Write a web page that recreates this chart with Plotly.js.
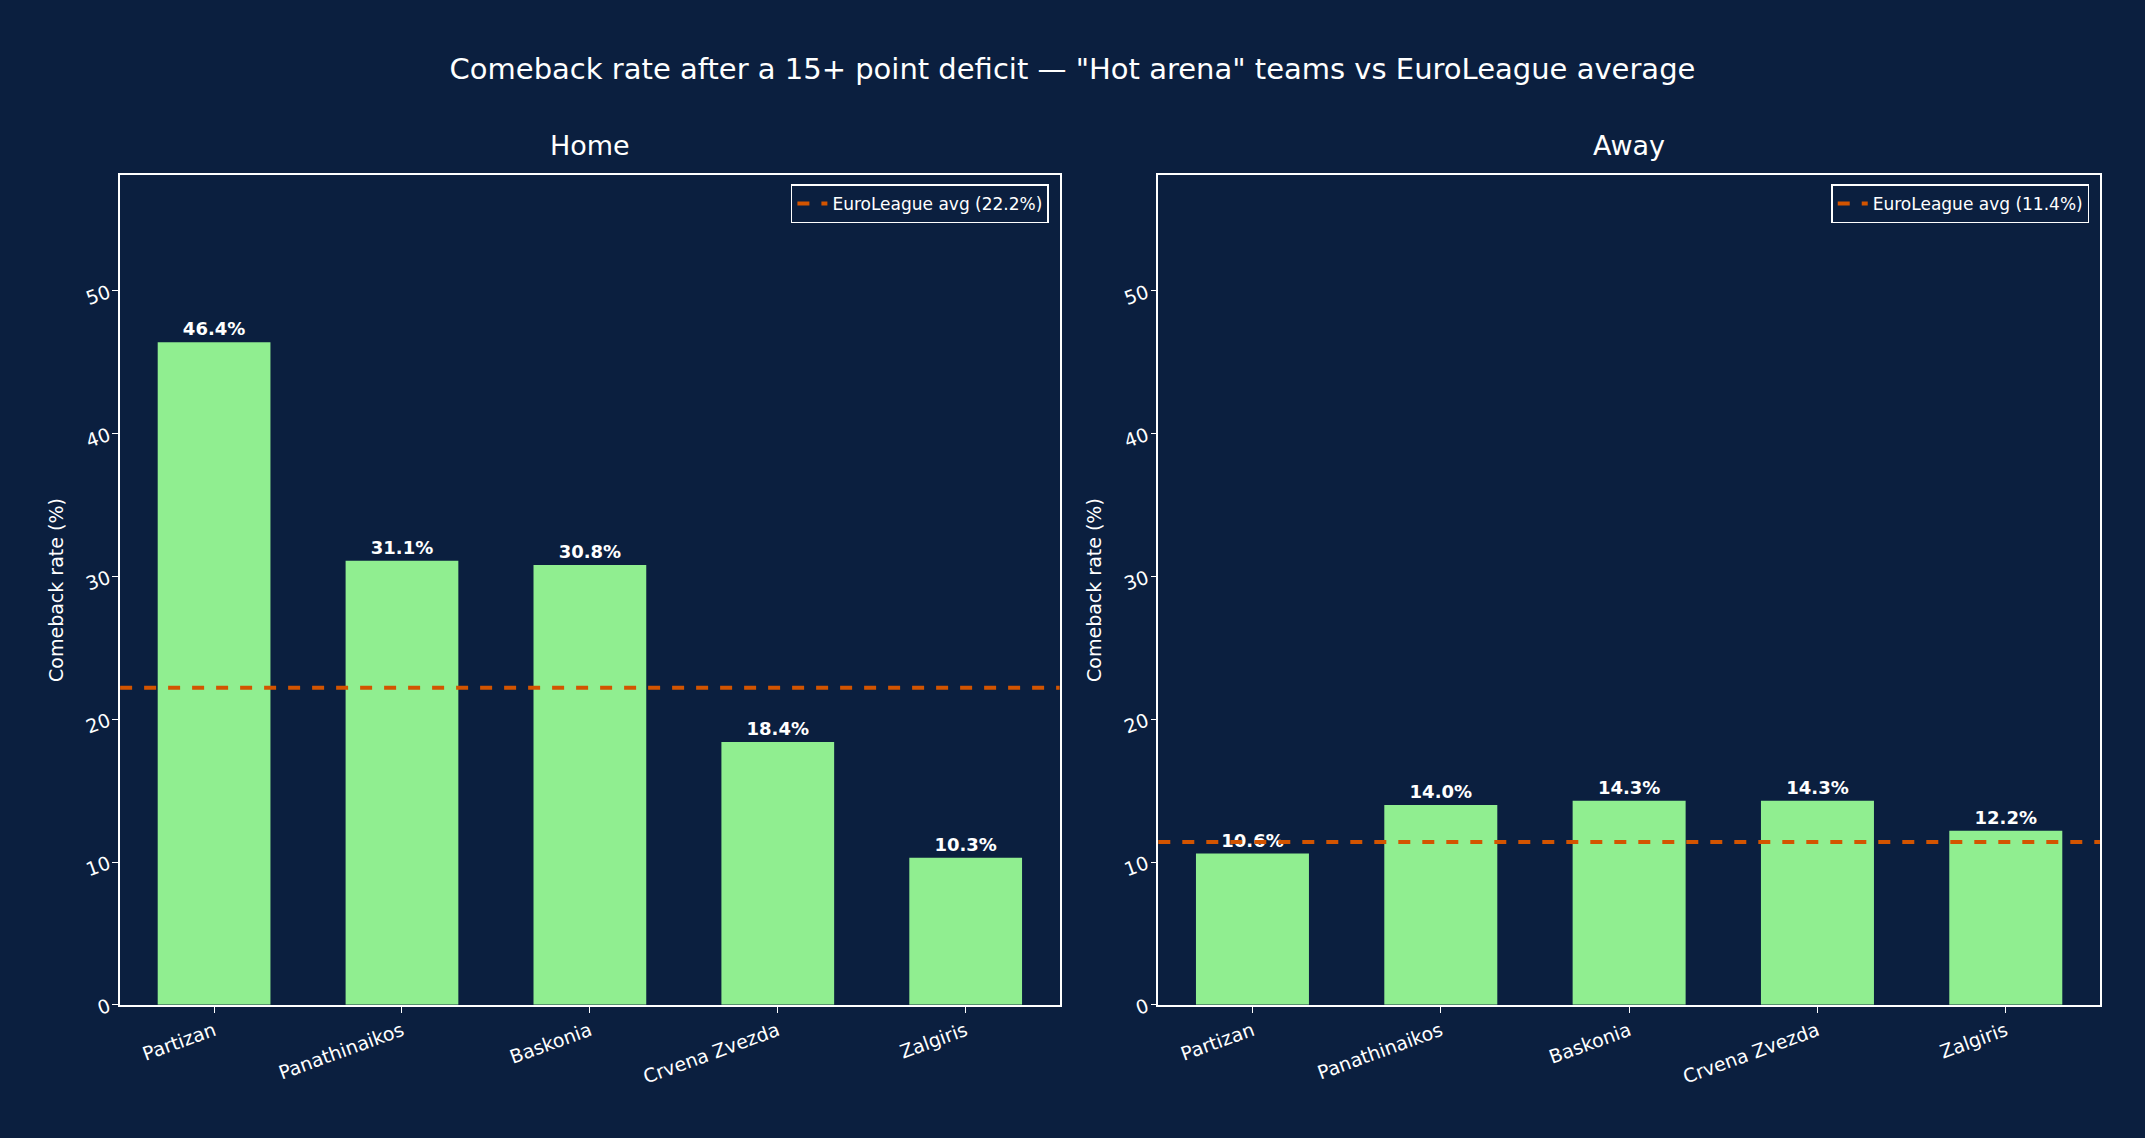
<!DOCTYPE html>
<html><head><meta charset="utf-8">
<script src="https://cdn.plot.ly/plotly-3.0.1.min.js"></script>
<style>html,body{margin:0;padding:0;background:#0b1f3f}</style>
</head><body>
<div id="chart" style="width:2145px;height:1138px"></div>
<script>
const teams = ["Partizan", "Panathinaikos", "Baskonia", "Crvena Zvezda", "Zalgiris"];
const homeRates = [46.4, 31.1, 30.8, 18.4, 10.3];
const awayRates = [10.6, 14.0, 14.3, 14.3, 12.2];
const homeAvg = 22.2;
const awayAvg = 11.4;

const bg = "#0b1f3f";
const barColor = "#90ee90";
const avgColor = "#d35400";
const fontFam = "DejaVu Sans, sans-serif";

function barTrace(vals, xa, ya) {
  return {
    type: "bar", x: teams, y: vals, xaxis: xa, yaxis: ya, width: 0.6,
    marker: { color: barColor }, showlegend: false,
    text: vals.map(v => "<b>" + v.toFixed(1) + "%</b>"),
    textposition: "outside", cliponaxis: false,
    textfont: { color: "white", size: 18, family: fontFam },
  };
}

function axisY(domainX, anchor) {
  return {
    domain: [0.117, 0.846], anchor: anchor, range: [0, 58.1],
    tickvals: [0, 10, 20, 30, 40, 50], tickangle: -20,
    ticks: "outside", ticklen: 6, tickcolor: "white", showgrid: false, zeroline: false,
    showline: true, mirror: true, linecolor: "white", linewidth: 1.5,
    tickfont: { color: "white", size: 19, family: fontFam },
    title: { text: "Comeback rate (%)", font: { color: "white", size: 19, family: fontFam }, standoff: 14 },
  };
}
function axisX(domain, anchor) {
  return {
    domain: domain, anchor: anchor, tickangle: -20,
    ticks: "outside", ticklen: 6, tickcolor: "white", showgrid: false,
    showline: true, mirror: true, linecolor: "white", linewidth: 1.5,
    tickfont: { color: "white", size: 19, family: fontFam },
  };
}

const data = [barTrace(homeRates, "x", "y"), barTrace(awayRates, "x2", "y2")];

function avgShape(val, xref, yref, legend) {
  return {
    type: "line", xref: xref + " domain", yref: yref, x0: 0, x1: 1, y0: val, y1: val,
    line: { color: avgColor, width: 4, dash: "dash" },
    showlegend: true, legend: legend, name: "EuroLeague avg (" + val.toFixed(1) + "%)",
  };
}

const legendStyle = (x) => ({
  x: x, y: 0.838, xanchor: "right", yanchor: "top",
  bgcolor: bg, bordercolor: "white", borderwidth: 1.5,
  font: { color: "white", size: 17, family: fontFam },
});

const layout = {
  paper_bgcolor: bg, plot_bgcolor: bg,
  margin: { l: 0, r: 0, t: 0, b: 0 },
  bargap: 0.4,
  title: { text: 'Comeback rate after a 15+ point deficit — "Hot arena" teams vs EuroLeague average',
    x: 0.5, y: 0.948, xanchor: "center", font: { color: "white", size: 29, family: fontFam } },
  xaxis: axisX([0.056, 0.494], "y"),
  yaxis: axisY(null, "x"),
  xaxis2: axisX([0.540, 0.979], "y2"),
  yaxis2: axisY(null, "x2"),
  shapes: [avgShape(homeAvg, "x", "y", "legend"), avgShape(awayAvg, "x2", "y2", "legend2")],
  legend: legendStyle(0.489),
  legend2: legendStyle(0.974),
  annotations: [
    { text: "Home", x: 0.275, y: 0.857, xref: "paper", yref: "paper", xanchor: "center", yanchor: "bottom",
      showarrow: false, font: { color: "white", size: 27, family: fontFam } },
    { text: "Away", x: 0.7595, y: 0.857, xref: "paper", yref: "paper", xanchor: "center", yanchor: "bottom",
      showarrow: false, font: { color: "white", size: 27, family: fontFam } },
  ],
};

Plotly.newPlot("chart", data, layout, { displayModeBar: false });
</script>
</body></html>
